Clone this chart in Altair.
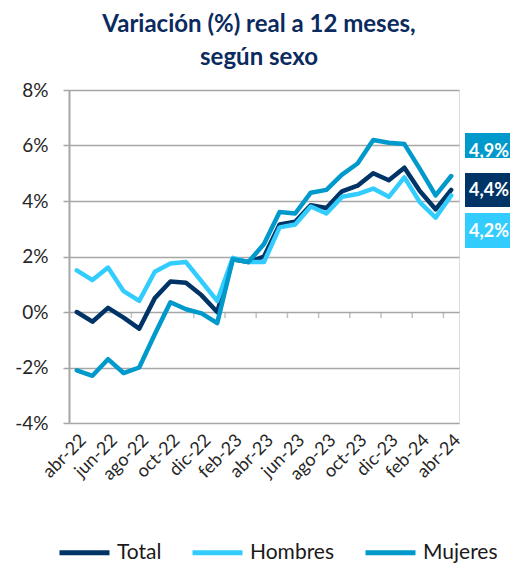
import json
import altair as alt
import pandas as pd

months = ["abr-22", "may-22", "jun-22", "jul-22", "ago-22", "sep-22", "oct-22",
          "nov-22", "dic-22", "ene-23", "feb-23", "mar-23", "abr-23", "may-23",
          "jun-23", "jul-23", "ago-23", "sep-23", "oct-23", "nov-23", "dic-23",
          "ene-24", "feb-24", "mar-24", "abr-24"]
total = [0.0, -0.35, 0.15, -0.2, -0.6, 0.5, 1.1, 1.05, 0.6, 0.0, 1.9, 1.8, 2.0,
         3.15, 3.25, 3.85, 3.75, 4.35, 4.55, 5.0, 4.75, 5.2, 4.35, 3.7, 4.4]
hombres = [1.5, 1.15, 1.6, 0.75, 0.4, 1.45, 1.75, 1.8, 1.1, 0.4, 1.95, 1.8, 1.8,
           3.05, 3.15, 3.8, 3.55, 4.15, 4.25, 4.45, 4.15, 4.85, 3.95, 3.4, 4.2]
mujeres = [-2.1, -2.3, -1.7, -2.2, -2.0, -0.8, 0.35, 0.1, -0.05, -0.4, 1.9, 1.8, 2.45,
           3.6, 3.55, 4.3, 4.4, 4.95, 5.35, 6.2, 6.1, 6.05, 5.15, 4.2, 4.9]

series_names = ["Total", "Hombres", "Mujeres"]
series_colors = ["#003366", "#33CCFF", "#0099CC"]
end_labels = ["4,9%", "4,4%", "4,2%"]
end_label_colors = ["#0099CC", "#003366", "#33CCFF"]
y_ticks = [-4, -2, 0, 2, 4, 6, 8]
title_lines = ["Variación (%) real a 12 meses,", "según sexo"]

FONT = "Lato"
GRID = "#a6a6a6"

rows = []
for i, m in enumerate(months):
    for name, vals in zip(series_names, [total, hombres, mujeres]):
        rows.append({"idx": i, "mes": m, "serie": name, "valor": vals[i]})
df = pd.DataFrame(rows)

x_scale = alt.Scale(domain=[-0.5, len(months) - 0.5], nice=False, zero=False)
x_axis = alt.Axis(
    values=list(range(0, len(months), 2)),
    labelExpr=json.dumps(months) + "[datum.value]",
    labelAngle=-45, labelOverlap=False, grid=False, domain=False, ticks=False,
    labelFontSize=18, labelPadding=8, labelColor="#262626", labelFont=FONT,
    title=None,
)
y_scale = alt.Scale(domain=[-4, 8], nice=False, zero=False)
y_axis = alt.Axis(
    values=y_ticks, labelExpr="datum.value + '%'",
    grid=True, gridColor=GRID, gridWidth=1.5,
    domain=True, domainColor=GRID, domainWidth=2,
    ticks=True, tickSize=6, tickColor=GRID, tickWidth=1.5,
    labelFontSize=19, labelPadding=15, labelColor="#262626", labelFont=FONT,
    title=None,
)
color_enc = alt.Color(
    "serie:N",
    scale=alt.Scale(domain=series_names, range=series_colors),
    legend=alt.Legend(
        orient="none", direction="horizontal", legendX=-12, legendY=435,
        title=None, symbolType="stroke", symbolSize=2500, symbolStrokeWidth=5,
        labelFontSize=21, labelFont=FONT, labelColor="#1a1a1a",
        labelOffset=5, columnPadding=20,
    ),
)

layers = []
for name in series_names:
    layers.append(
        alt.Chart(df).transform_filter(alt.datum.serie == name)
        .mark_line(strokeWidth=4.5, strokeCap="round", strokeJoin="round")
        .encode(x=alt.X("idx:Q", scale=x_scale, axis=x_axis),
                y=alt.Y("valor:Q", scale=y_scale, axis=y_axis),
                color=color_enc, order="idx:Q")
    )

tick_df = pd.DataFrame({"idx": [k - 0.5 for k in range(2, len(months) + 1, 2)],
                        "valor": [0] * len(range(2, len(months) + 1, 2))})
layers.insert(0, alt.Chart(tick_df).mark_tick(
    orient="vertical", size=6, thickness=1.5, color=GRID, yOffset=3
).encode(x=alt.X("idx:Q", scale=x_scale, axis=x_axis),
         y=alt.Y("valor:Q", scale=y_scale, axis=y_axis)))

box_y = [(43, 68), (83, 117), (123, 158)]
text_y = [62, 101, 142]
for lab, col, (y1, y2), ty in zip(end_labels, end_label_colors, box_y, text_y):
    layers.append(
        alt.Chart(df).transform_filter(alt.datum.idx == 0).transform_filter(alt.datum.serie == "Total")
        .mark_rect(color=col)
        .encode(x=alt.value(396), x2=alt.value(445), y=alt.value(y1), y2=alt.value(y2))
    )
    layers.append(
        alt.Chart(df).transform_filter(alt.datum.idx == 0).transform_filter(alt.datum.serie == "Total")
        .mark_text(text=lab, color="white", fontWeight="bold", fontSize=18, font=FONT,
                   align="center", baseline="middle")
        .encode(x=alt.value(420), y=alt.value(ty))
    )

chart = alt.layer(*layers).properties(
    width=390, height=333,
    padding={"left": 61, "top": 82, "right": 51, "bottom": 140},
    autosize=alt.AutoSizeParams(type="none"),
    title=alt.TitleParams(
        text=title_lines, fontSize=24, font=FONT, fontWeight="bold",
        color="#0b2a5e", anchor="middle", dx=-5, offset=11, lineHeight=33,
    ),
).configure_view(stroke=None).configure(background="white")

chart.save("out.html", embed_options={"renderer": "svg", "actions": False})
